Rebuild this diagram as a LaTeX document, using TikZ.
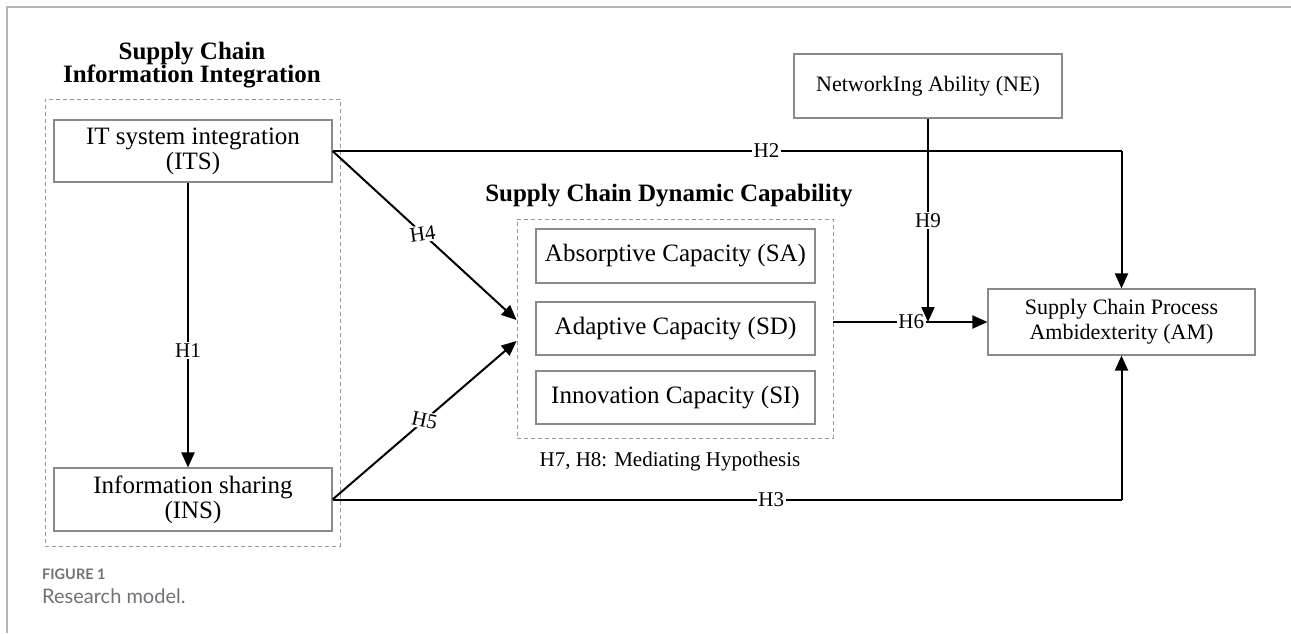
\documentclass[tikz,border=0pt]{standalone}
\usepackage{fontspec}
\setmainfont{Liberation Serif}
\newfontfamily\capfont{Lato}
\usetikzlibrary{arrows.meta,calc}
\definecolor{boxgray}{HTML}{8A8A8A}
\definecolor{dashgray}{HTML}{9A9A9A}
\definecolor{framegray}{HTML}{B4B4B4}
\definecolor{capgray}{HTML}{6E7378}
\begin{document}
\begin{tikzpicture}[x=1pt,y=-1pt,
  solidbox/.style={draw=boxgray,line width=1.1pt,inner sep=0pt,align=center,font=\fontsize{25}{25}\selectfont},
  smallbox/.style={solidbox,font=\fontsize{22}{25}\selectfont},
  dashbox/.style={draw=dashgray,dashed,line width=0.9pt,dash pattern=on 4pt off 3pt,inner sep=0pt},
  titletext/.style={align=center,font=\fontsize{25}{23}\selectfont\bfseries},
  arr/.style={line width=2pt,-{Triangle[length=15pt,width=13pt]}},
  plain/.style={line width=2pt},
  lbl/.style={fill=white,inner sep=1.5pt,font=\fontsize{21}{21}\selectfont}]
\useasboundingbox (0,0) rectangle (1291,633);
% frame
\draw[framegray,line width=2pt] (7,633) -- (7,7) -- (1291,7);
% left group
\node[titletext] (t1) at (192,65) {Supply Chain\\Information Integration};
\node[dashbox,minimum width=295pt,minimum height=447pt] (box1) at (192.5,322.5) {};
\node[solidbox,minimum width=278pt,minimum height=62pt] (ITS) at (193,151) {IT system integration\\(ITS)};
\node[solidbox,minimum width=278pt,minimum height=63pt] (INS) at (193,499.5) {Information sharing\\(INS)};
% middle group
\node[titletext] (t2) at (669,196) {Supply Chain Dynamic Capability};
\node[dashbox,minimum width=316pt,minimum height=219pt] (box2) at (675,328.5) {};
\node[solidbox,minimum width=279pt,minimum height=54pt] (SA) at (675.5,256) {Absorptive Capacity (SA)};
\node[solidbox,minimum width=279pt,minimum height=53pt] (SD) at (675.5,328.5) {Adaptive Capacity (SD)};
\node[solidbox,minimum width=279pt,minimum height=53pt] (SI) at (675.5,397.5) {Innovation Capacity (SI)};
\node[font=\fontsize{21}{21}\selectfont] (med) at (670,461) {H7, H8: Mediating Hypothesis};
% right
\node[smallbox,minimum width=268pt,minimum height=64pt] (NE) at (928,86) {NetworkIng Ability (NE)};
\node[smallbox,minimum width=267pt,minimum height=66pt] (AM) at (1121.5,322) {Supply Chain Process\\Ambidexterity (AM)};
% coordinates
\coordinate (h1x) at (188,0);
\coordinate (h4t) at ($(box2.west)+(0,-8.5)$);
\coordinate (h5t) at ($(box2.west)+(0,12.5)$);
% connectors
\draw[arr] (ITS.south -| h1x) -- node[lbl,pos=0.59]{H1} (INS.north -| h1x);
\draw[plain] (ITS.east) -- node[lbl,pos=0.55]{H2} (ITS.east -| AM.north);
\draw[arr] (ITS.east -| AM.north) -- (AM.north);
\draw[plain] (INS.east) -- node[lbl,pos=0.556]{H3} (INS.east -| AM.south);
\draw[arr] (INS.east -| AM.south) -- (AM.south);
\draw[arr] (ITS.east) -- node[lbl,pos=0.49,rotate=8]{H4} (h4t);
\draw[arr] (INS.east) -- node[lbl,pos=0.5,rotate=-12]{H5} (h5t);
\draw[arr] (AM.west -| box2.east) -- node[lbl,pos=0.505]{H6} (AM.west);
\draw[arr] (NE.south) -- node[lbl,pos=0.5]{H9} (NE.south |- AM.west);
% caption
\node[anchor=base west,inner sep=0pt,text=capgray,font=\capfont\fontsize{14.5}{14.5}\selectfont\bfseries] (cap1) at (42,579) {FIGURE 1};
\node[anchor=base west,inner sep=0pt,text=capgray,font=\capfont\fontsize{20}{20}\selectfont] (cap2) at (42,603) {Research model.};
\end{tikzpicture}
\end{document}
